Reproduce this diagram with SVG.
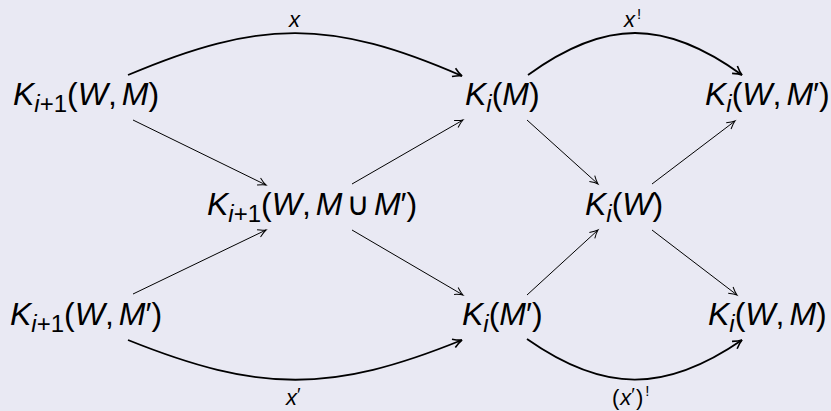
<svg xmlns="http://www.w3.org/2000/svg" width="831" height="411" viewBox="0 0 831 411">
<defs>
<style>
.n{font-family:"Liberation Sans",Arial,"DejaVu Sans",sans-serif;font-size:32px;fill:#000}
.i{font-style:italic}
.s{font-size:24px}
.l{font-family:"Liberation Sans",Arial,"DejaVu Sans",sans-serif;font-size:22px;fill:#000}
.ln{fill:none;stroke:#000;stroke-width:1}
.cv{fill:none;stroke:#000;stroke-width:1.8}
</style>
<marker id="a" markerUnits="userSpaceOnUse" orient="auto" markerWidth="20" markerHeight="20" viewBox="-10 -10 20 20" refX="0" refY="0" overflow="visible">
<path d="M-8,-4 Q-3,-0.8 0,0 Q-3,0.8 -8,4" fill="none" stroke="#000" stroke-width="1"/>
</marker>
<marker id="b" markerUnits="userSpaceOnUse" orient="auto" markerWidth="20" markerHeight="20" viewBox="-10 -10 20 20" refX="0" refY="0" overflow="visible">
<path d="M-9,-4.5 Q-3.5,-0.9 0,0 Q-3.5,0.9 -9,4.5" fill="none" stroke="#000" stroke-width="1.6"/>
</marker>
</defs>
<rect width="831" height="411" fill="#e9e9f3"/>
<g id="connectors">
<path class="cv" d="M128,75 C260,19 331,19 462,76" marker-end="url(#b)"/>
<path class="cv" d="M528,75 C605,19 665,19 742,75" marker-end="url(#b)"/>
<path class="cv" d="M128,340 C260,393 331,393 462,340" marker-end="url(#b)"/>
<path class="cv" d="M527,339 C604,393 665,393 742,340" marker-end="url(#b)"/>
<path class="ln" d="M133,120 L266,185" marker-end="url(#a)"/>
<path class="ln" d="M133,294 L266,230" marker-end="url(#a)"/>
<path class="ln" d="M352,184 L463,120" marker-end="url(#a)"/>
<path class="ln" d="M352,230 L463,295" marker-end="url(#a)"/>
<path class="ln" d="M527,120 L598,184" marker-end="url(#a)"/>
<path class="ln" d="M527,295 L598,230" marker-end="url(#a)"/>
<path class="ln" d="M652,184 L735,121" marker-end="url(#a)"/>
<path class="ln" d="M652,230 L737,295" marker-end="url(#a)"/>
<text class="l" x="289" y="27"><tspan class="i">x</tspan></text>
<text class="l" x="624" y="27"><tspan class="i">x</tspan><tspan font-size="15" dy="-8" dx="2">!</tspan></text>
<text class="l" x="286" y="405"><tspan class="i">x</tspan><tspan font-size="19" dy="-4">′</tspan></text>
<text class="l" x="612" y="405">(<tspan class="i" dx="1">x</tspan><tspan font-size="19" dy="-4">′</tspan><tspan dy="4" dx="1">)</tspan><tspan font-size="15" dy="-9" dx="2">!</tspan></text>
</g>
<g id="n1"><text class="n" x="13" y="105"><tspan class="i">K</tspan><tspan class="s i" dy="7">i</tspan><tspan class="s">+1</tspan><tspan dy="-7">(</tspan><tspan class="i">W</tspan>,<tspan class="i" dx="5">M</tspan>)</text></g>
<g id="n2"><text class="n" x="465" y="105"><tspan class="i">K</tspan><tspan class="s i" dy="7">i</tspan><tspan dy="-7">(</tspan><tspan class="i">M</tspan>)</text></g>
<g id="n3"><text class="n" x="705" y="105"><tspan class="i">K</tspan><tspan class="s i" dy="7">i</tspan><tspan dy="-7">(</tspan><tspan class="i">W</tspan>,<tspan class="i" dx="5">M</tspan>′)</text></g>
<g id="n4"><text class="n" x="207" y="215"><tspan class="i">K</tspan><tspan class="s i" dy="7">i</tspan><tspan class="s">+1</tspan><tspan dy="-7">(</tspan><tspan class="i">W</tspan>,<tspan class="i" dx="5">M</tspan><tspan dx="4">∪</tspan><tspan class="i" dx="4">M</tspan>′)</text></g>
<g id="n5"><text class="n" x="585" y="215"><tspan class="i">K</tspan><tspan class="s i" dy="7">i</tspan><tspan dy="-7">(</tspan><tspan class="i">W</tspan>)</text></g>
<g id="n6"><text class="n" x="10" y="325"><tspan class="i">K</tspan><tspan class="s i" dy="7">i</tspan><tspan class="s">+1</tspan><tspan dy="-7">(</tspan><tspan class="i">W</tspan>,<tspan class="i" dx="5">M</tspan>′)</text></g>
<g id="n7"><text class="n" x="462" y="325"><tspan class="i">K</tspan><tspan class="s i" dy="7">i</tspan><tspan dy="-7">(</tspan><tspan class="i">M</tspan>′)</text></g>
<g id="n8"><text class="n" x="708" y="325"><tspan class="i">K</tspan><tspan class="s i" dy="7">i</tspan><tspan dy="-7">(</tspan><tspan class="i">W</tspan>,<tspan class="i" dx="5">M</tspan>)</text></g>
</svg>
